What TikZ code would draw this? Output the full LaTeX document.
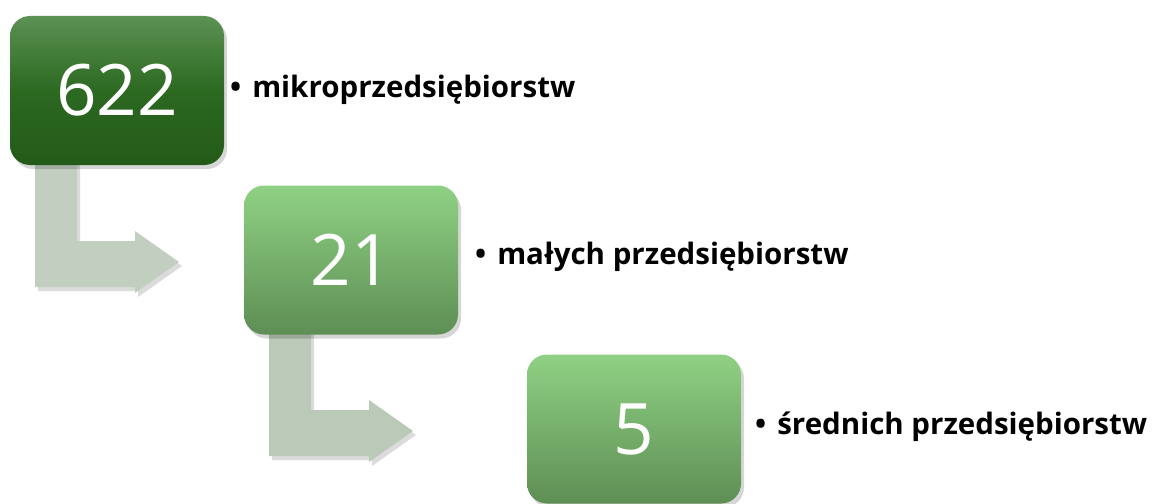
\documentclass[tikz,border=0pt]{standalone}
\usepackage{fontspec}
\setmainfont{Open Sans}
\usetikzlibrary{calc,shadows}
\definecolor{darkTop}{HTML}{5C9254}
\definecolor{darkMid}{HTML}{2C6921}
\definecolor{darkBot}{HTML}{235A18}
\definecolor{lightTop}{HTML}{8FD184}
\definecolor{lightBot}{HTML}{5E8E54}
\definecolor{arrowA}{HTML}{C2CFC0}
\definecolor{arrowB}{HTML}{BBCAB8}
\tikzset{
  numbox/.style={rounded corners=20pt, minimum width=214pt, minimum height=149pt,
    inner sep=0pt, text=white, font=\fontsize{71}{71}\selectfont,
    drop shadow={shadow xshift=3pt, shadow yshift=-4pt, opacity=0.16, fill=black}},
  darkbox/.style={numbox, top color=darkTop, bottom color=darkBot, middle color=darkMid},
  lightbox/.style={numbox, top color=lightTop, bottom color=lightBot},
  label/.style={anchor=base west, inner sep=0pt, font=\bfseries\fontsize{29.5}{29.5}\selectfont},
  bendarrow/.style={drop shadow={shadow xshift=3pt, shadow yshift=-4pt, opacity=0.14, fill=black}},
}
\begin{document}
\begin{tikzpicture}[x=1pt,y=-1pt]
\useasboundingbox (0,0) rectangle (1155,503);
% arrows (under boxes)
\coordinate (a1) at (35,160);
\coordinate (a2) at (269,329);
\fill[arrowA, bendarrow] (a1) -- ++(42,0) -- ++(0,81) -- ++(58,0) -- ++(0,-10) -- ++(44,31) -- ++(-44,31) -- ++(0,-6) -- ++(-100,0) -- cycle;
\fill[arrowB, bendarrow] (a2) -- ++(42,0) -- ++(0,81) -- ++(58,0) -- ++(0,-10) -- ++(44,31) -- ++(-44,31) -- ++(0,-6) -- ++(-100,0) -- cycle;
% boxes
\node[darkbox] (b1) at (117,90.5) {622};
\node[lightbox] (b2) at (351,260) {21};
\node[lightbox] (b3) at (634,429) {5};
% labels
\node[label] (t1) at (230,97.5) {•\hspace{11pt}mikroprzedsiębiorstw};
\node[label] (t2) at (475,264) {•\hspace{11pt}małych przedsiębiorstw};
\node[label] (t3) at (755,434) {•\hspace{11pt}średnich przedsiębiorstw};
\end{tikzpicture}
\end{document}
